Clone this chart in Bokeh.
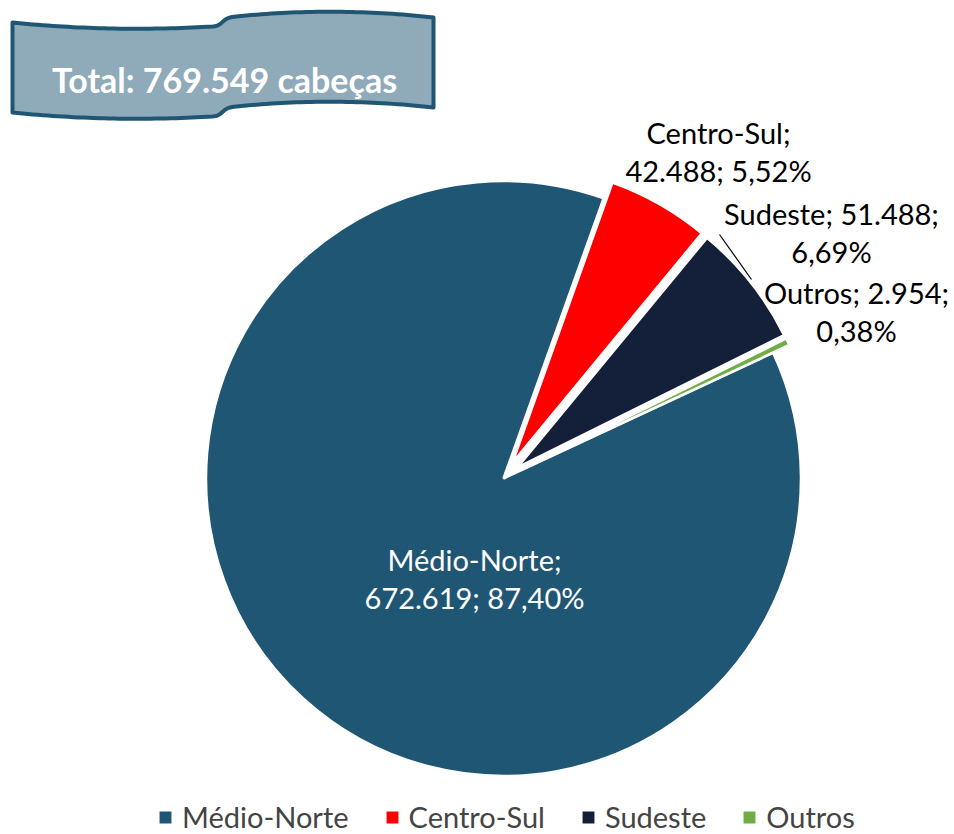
import numpy as np
from bokeh.plotting import figure
from bokeh.models import ColumnDataSource, Range1d, Legend, LegendItem
from bokeh.core.properties import value
from bokeh.embed import file_html
from bokeh.resources import INLINE

# ---------------- data ----------------
regions = ["Médio-Norte", "Centro-Sul", "Sudeste", "Outros"]
heads = [672619, 42488, 51488, 2954]
colors = ["#1F5673", "#FF0000", "#141F3A", "#70AD47"]

total = sum(heads)

def fmt_int(n):
    return f"{n:,}".replace(",", ".")

def fmt_pct(f):
    return f"{f * 100:.2f}".replace(".", ",") + "%"

# ---------------- layout ----------------
W, H = 954, 834
FONT = "Lato"

def px(x):  # picture px -> data x
    return x

def py(y):  # picture px -> data y
    return H - y

cx, cy = px(503), py(478)
R = 297.5
first_bearing = 65.0          # degrees clockwise from 12 o'clock
explode = [0, 18, 18, 18]     # px

# label placement (picture coords) and line breaking
lab_x = [474, 718, 831, 856]
lab_y = [559, 132, 213, 292]
line_gap = 38
break_after = [1, 1, 2, 2]
lab_color = ["white", "black", "black", "black"]

# ---------------- geometry from data ----------------
fracs = np.array(heads, dtype=float) / total
cum = np.concatenate([[0], np.cumsum(fracs)[:-1]])
start_b = first_bearing + 360 * cum
end_b = start_b + 360 * fracs
mid_b = np.radians((start_b + end_b) / 2)
xs = cx + np.array(explode) * np.sin(mid_b)
ys = cy + np.array(explode) * np.cos(mid_b)
start_a = np.radians(90 - start_b)
end_a = np.radians(90 - end_b)

src = ColumnDataSource(dict(x=xs, y=ys, start=start_a, end=end_a,
                            color=colors, name=regions))

p = figure(width=W, height=H, x_range=Range1d(0, W), y_range=Range1d(0, H),
           output_backend="svg", toolbar_location=None, min_border=0,
           x_axis_type=None, y_axis_type=None)
p.grid.visible = False
p.outline_line_color = None
p.background_fill_color = "white"

wr = p.wedge(x="x", y="y", radius=R, start_angle="start", end_angle="end",
             direction="clock", fill_color="color", line_color="white",
             line_width=2.5, source=src)

# ---------------- data labels ----------------
tx, ty, tt, tc = [], [], [], []
for i in range(len(regions)):
    parts = [regions[i], fmt_int(heads[i]), fmt_pct(fracs[i])]
    l1 = "; ".join(parts[:break_after[i]]) + ";"
    l2 = "; ".join(parts[break_after[i]:])
    for k, t in enumerate([l1, l2]):
        tx.append(px(lab_x[i]))
        ty.append(py(lab_y[i] + k * line_gap))
        tt.append(t)
        tc.append(lab_color[i])
p.text(x="x", y="y", text="t", text_color="c",
       source=ColumnDataSource(dict(x=tx, y=ty, t=tt, c=tc)),
       text_align="center", text_baseline="alphabetic",
       text_font=value(FONT), text_font_size="29px")

# leader line for Sudeste label
p.segment(x0=px(719), y0=py(234), x1=px(751), y1=py(279),
          line_color="black", line_width=1.2)

# ---------------- title banner ----------------
def qbez(p0, p1, p2, n=40):
    t = np.linspace(0, 1, n)[:, None]
    p0, p1, p2 = map(np.array, (p0, p1, p2))
    return (1 - t) ** 2 * p0 + 2 * (1 - t) * t * p1 + t ** 2 * p2

def cbez(p0, p1, p2, p3, n=20):
    t = np.linspace(0, 1, n)[:, None]
    p0, p1, p2, p3 = map(np.array, (p0, p1, p2, p3))
    return ((1 - t) ** 3 * p0 + 3 * (1 - t) ** 2 * t * p1
            + 3 * (1 - t) * t ** 2 * p2 + t ** 3 * p3)

top = np.vstack([qbez((12, 22), (110, 32), (212, 26)),
                 cbez((212, 26), (224, 25), (220, 17), (236, 16)),
                 qbez((236, 16), (333, 6), (433, 17))])
bot = top + np.array([0, 90])
outline = np.vstack([top, bot[::-1]])
p.patch(x=px(outline[:, 0]), y=py(outline[:, 1]), fill_color="#8FAAB9",
        line_color="#1F5673", line_width=4, line_join="round")
p.text(x=[px(224)], y=[py(79)], text=[f"Total: {fmt_int(total)} cabeças"],
       text_align="center", text_baseline="alphabetic",
       text_font=value(FONT), text_font_style="bold", text_font_size="34px",
       text_color="white")

# ---------------- legend ----------------
items = [LegendItem(label=regions[i], renderers=[wr], index=i)
         for i in range(len(regions))]
legend = Legend(items=items, orientation="horizontal", location=(156, 0),
                label_text_font=FONT, label_text_font_size="29px",
                label_height=15,
                glyph_width=18, glyph_height=18, label_standoff=8,
                spacing=34, padding=0, margin=0,
                border_line_color=None, background_fill_alpha=0)
p.add_layout(legend)

open("out.html", "w").write(file_html(p, INLINE))
